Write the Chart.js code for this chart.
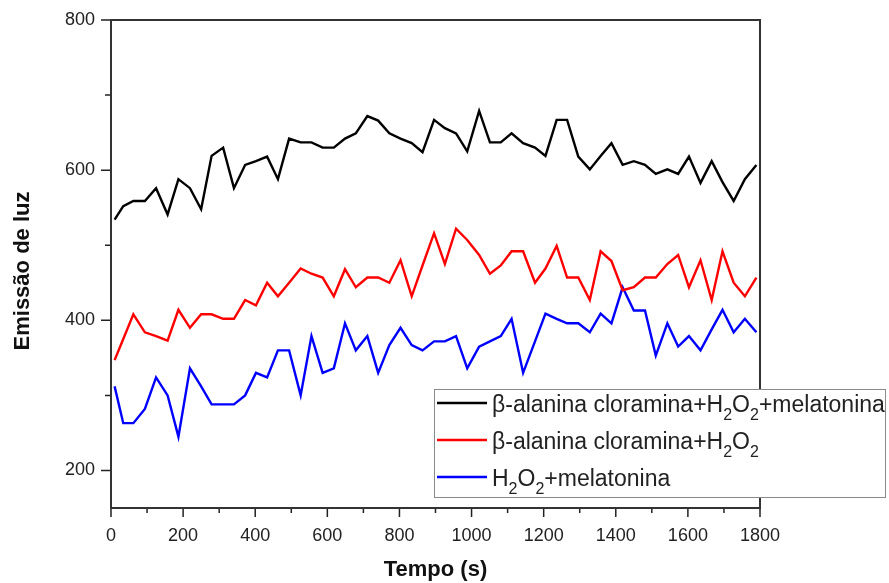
<!DOCTYPE html>
<html>
<head>
<meta charset="utf-8">
<script src="https://cdn.jsdelivr.net/npm/chart.js@4.4.1/dist/chart.umd.min.js"></script>
<style>
  body { margin: 0; background: #fff; }
  #wrap { width: 889px; height: 583px; position: relative; }
</style>
</head>
<body>
<div id="wrap"><canvas id="lumChart"></canvas></div>
<script>
// sampling times (s)
const times = [10, 34, 62, 94, 125, 157, 187, 219, 250, 279, 311, 341, 372, 402, 433, 463, 494, 526, 556, 587,
  618, 649, 679, 711, 741, 772, 803, 834, 864, 896, 926, 957, 988, 1021, 1051, 1081, 1111, 1143, 1176, 1205,
  1236, 1265, 1296, 1328, 1358, 1388, 1419, 1450, 1481, 1511, 1543, 1573, 1603, 1635, 1666, 1696, 1727, 1758, 1790];

const clorMel = [534, 552, 559, 559, 576, 541, 588, 576, 548, 619, 630, 576, 607, 612, 618, 588, 642, 637, 637, 630,
  630, 642, 649, 672, 666, 649, 642, 636, 624, 667, 656, 649, 625, 679, 637, 637, 649, 636, 630, 619,
  667, 667, 618, 601, 619, 636, 607, 612, 607, 595, 601, 595, 618, 583, 612, 584, 559, 588, 607];

const clorH2O2 = [347, 375, 408, 384, 379, 373, 414, 390, 408, 408, 402, 402, 427, 420, 450, 432, 450, 469, 462, 457,
  432, 468, 444, 457, 457, 450, 480, 432, 473, 516, 475, 522, 507, 487, 462, 473, 492, 492, 450, 469,
  499, 457, 457, 427, 492, 479, 440, 444, 457, 457, 475, 487, 444, 480, 427, 492, 450, 432, 457];

const h2o2Mel = [312, 263, 263, 282, 324, 300, 245, 336, 312, 288, 288, 288, 300, 330, 324, 360, 360, 300, 379, 330,
  336, 396, 360, 379, 330, 367, 390, 367, 360, 372, 372, 379, 336, 365, 372, 379, 402, 330, 372, 409,
  402, 396, 396, 384, 409, 396, 444, 413, 413, 353, 396, 365, 379, 360, 388, 414, 384, 402, 384];

// "_2" marks a subscript digit
const seriesNames = ['β-alanina cloramina+H_2O_2+melatonina', 'β-alanina cloramina+H_2O_2', 'H_2O_2+melatonina'];
const seriesColors = ['#000000', '#ff0000', '#0000ff'];

const xTicks = [0, 100, 200, 300, 400, 500, 600, 700, 800, 900, 1000, 1100, 1200, 1300, 1400, 1500, 1600, 1700, 1800];
const yTicks = [200, 300, 400, 500, 600, 700, 800];

const FONT = "'Liberation Sans', Arial, sans-serif";

function drawRich(ctx, text, x, y, size) {
  const parts = text.split(/(_\d)/).filter(s => s.length);
  for (const p of parts) {
    if (p[0] === '_') {
      ctx.font = Math.round(size * 0.68) + 'px ' + FONT;
      ctx.fillText(p.slice(1), x, y + 8);
      x += ctx.measureText(p.slice(1)).width;
    } else {
      ctx.font = size + 'px ' + FONT;
      ctx.fillText(p, x, y);
      x += ctx.measureText(p).width;
    }
  }
}

const decorations = {
  id: 'decorations',
  afterDraw(chart) {
    const { ctx, chartArea: a, scales: { x, y } } = chart;
    ctx.save();

    // outward tick marks, minor ones shorter
    ctx.strokeStyle = '#222';
    ctx.lineWidth = 1.5;
    ctx.beginPath();
    x.ticks.forEach(t => {
      const px = x.getPixelForValue(t.value);
      ctx.moveTo(px, a.bottom);
      ctx.lineTo(px, a.bottom + (t.value % 200 ? 5 : 9));
    });
    y.ticks.forEach(t => {
      const py = y.getPixelForValue(t.value);
      ctx.moveTo(a.left, py);
      ctx.lineTo(a.left - (t.value % 200 ? 6 : 10), py);
    });
    ctx.stroke();

    // plot frame
    ctx.strokeStyle = '#333';
    ctx.lineWidth = 2;
    ctx.strokeRect(a.left, a.top, a.right - a.left, a.bottom - a.top);

    // y axis title
    ctx.save();
    ctx.translate(23, 271);
    ctx.rotate(-Math.PI / 2);
    ctx.font = 'bold 22px ' + FONT;
    ctx.fillStyle = '#111';
    ctx.textAlign = 'center';
    ctx.textBaseline = 'middle';
    ctx.fillText('Emissão de luz', 0, 0);
    ctx.restore();

    // legend box
    const lx = 434, ly = 389, lw = 451, lh = 108;
    ctx.fillStyle = '#fff';
    ctx.fillRect(lx, ly, lw, lh);
    ctx.strokeStyle = '#8a8a8a';
    ctx.lineWidth = 1;
    ctx.strokeRect(lx + 0.5, ly + 0.5, lw, lh);
    const rows = [403, 440, 477];
    chart.data.datasets.forEach((ds, i) => {
      ctx.strokeStyle = ds.borderColor;
      ctx.lineWidth = 2.4;
      ctx.beginPath();
      ctx.moveTo(437, rows[i]);
      ctx.lineTo(487, rows[i]);
      ctx.stroke();
      ctx.fillStyle = '#222';
      ctx.textAlign = 'left';
      ctx.textBaseline = 'alphabetic';
      drawRich(ctx, seriesNames[i], 492, rows[i] + 9, 23);
    });
    ctx.restore();
  }
};

const ctx = document.getElementById('lumChart');
const lumChart = new Chart(ctx, {
  type: 'line',
  data: {
    datasets: [clorMel, clorH2O2, h2o2Mel].map((vals, i) => ({
      label: seriesNames[i].replace(/_2/g, '₂'),
      data: vals.map((v, k) => ({ x: times[k], y: v })),
      borderColor: seriesColors[i],
      borderWidth: 2.4,
      pointRadius: 0,
      fill: false,
      tension: 0
    }))
  },
  options: {
    responsive: true,
    maintainAspectRatio: false,
    animation: false,
    layout: { padding: { left: 0, top: 20, right: 129, bottom: 0 } },
    plugins: {
      legend: { display: false },
      tooltip: { enabled: false }
    },
    scales: {
      x: {
        type: 'linear',
        min: 0,
        max: 1800,
        afterBuildTicks: s => { s.ticks = xTicks.map(v => ({ value: v })); },
        afterFit: s => { s.height = 75; s.paddingLeft = 0; s.paddingRight = 0; },
        grid: { display: false, drawTicks: false },
        border: { display: false },
        ticks: {
          autoSkip: false,
          maxRotation: 0,
          padding: 17,
          color: '#222',
          font: { family: FONT, size: 18 },
          callback: v => (v % 200 === 0 ? v : '')
        },
        title: {
          display: true,
          text: 'Tempo (s)',
          color: '#111',
          font: { family: FONT, size: 22, weight: 'bold' },
          padding: { top: 0, bottom: 0 }
        }
      },
      y: {
        min: 150,
        max: 800,
        afterBuildTicks: s => { s.ticks = yTicks.map(v => ({ value: v })); },
        afterFit: s => { s.width = 111; s.paddingTop = 0; s.paddingBottom = 0; },
        grid: { display: false, drawTicks: false },
        border: { display: false },
        ticks: {
          autoSkip: false,
          padding: 16,
          color: '#222',
          font: { family: FONT, size: 18 },
          callback: v => (v % 200 === 0 ? v : '')
        }
      }
    }
  },
  plugins: [decorations]
});
</script>
</body>
</html>
